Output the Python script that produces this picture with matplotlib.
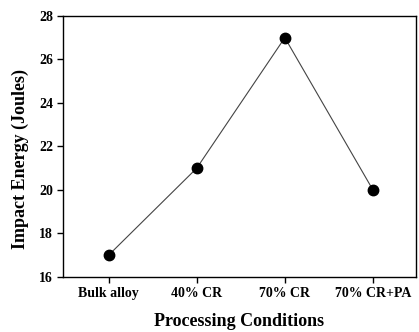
import matplotlib
matplotlib.use("Agg")
import matplotlib.pyplot as plt

categories = ["Bulk alloy", "40% CR", "70% CR", "70% CR+PA"]
impact_energy = [17, 21, 27, 20]
y_ticks = [16, 18, 20, 22, 24, 26, 28]

plt.rcParams['font.family'] = ['Liberation Serif', 'DejaVu Serif']
plt.rcParams['font.weight'] = 'bold'

fig = plt.figure(figsize=(4.19, 3.32), dpi=100)
ax = fig.add_axes([0.150, 0.166, 0.843, 0.786])

x = list(range(len(categories)))
ax.plot(x, impact_energy, color='#444444', linewidth=0.8, marker='o',
        markersize=7.5, markerfacecolor='black', markeredgecolor='black')

ax.set_xlim(-0.52, 3.49)
ax.set_ylim(16, 28)
ax.set_yticks(y_ticks)
ax.set_xticks(x)
ax.set_xticklabels(categories)
ax.tick_params(direction='out', length=4, width=1, labelsize=10, pad=3)
for lab in ax.get_xticklabels() + ax.get_yticklabels():
    lab.set_fontweight('bold')
for s in ax.spines.values():
    s.set_linewidth(1.0)

ax.set_xlabel("Processing Conditions", fontsize=13, fontweight='bold', labelpad=10)
ax.set_ylabel("Impact Energy (Joules)", fontsize=13, fontweight='bold')
ax.yaxis.set_label_coords(-0.095, 0.45)

fig.savefig("out.png", dpi=100)
